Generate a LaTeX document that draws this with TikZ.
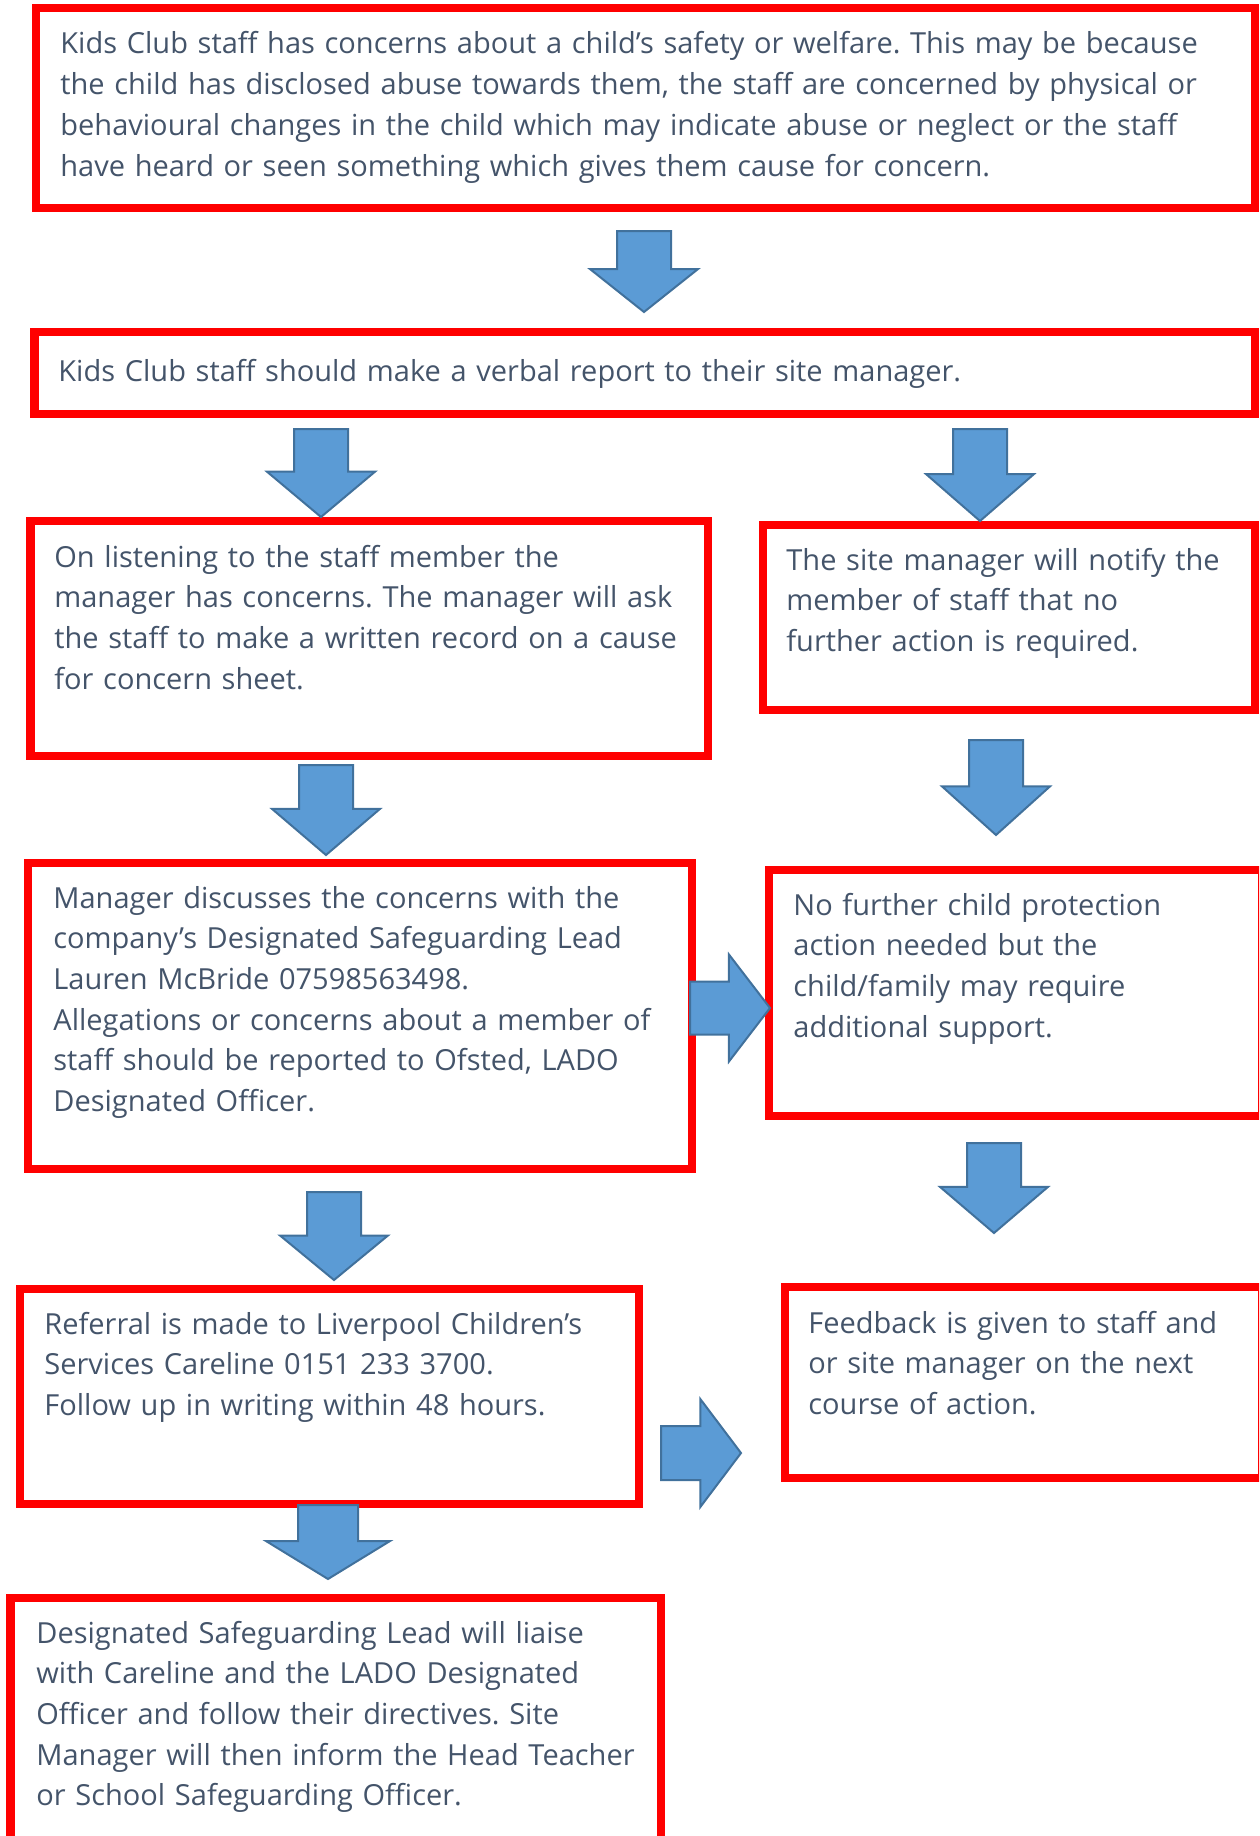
\documentclass[tikz,border=0pt]{standalone}
\usepackage{fontspec}
\setmainfont{Open Sans}
\frenchspacing
\usetikzlibrary{shapes.arrows,fit}
\definecolor{boxred}{HTML}{FF0000}
\definecolor{arrowfill}{HTML}{5B9BD5}
\definecolor{arrowedge}{HTML}{41719C}
\definecolor{textslate}{HTML}{44546A}
\tikzset{
  redbox/.style={draw=boxred, line width=4.25pt, inner sep=0pt},
  boxtext/.style={anchor=base west, align=left, inner sep=0pt, text width=600pt,
    text=textslate, font=\fontsize{14.5pt}{20.35pt}\selectfont},
  blockarrow/.style={single arrow, draw=arrowedge, fill=arrowfill, line width=1pt,
    minimum width=53pt, single arrow head extend=13.5pt, single arrow tip angle=100,
    inner xsep=0pt, inner ysep=13pt, outer sep=0pt, anchor=tip},
  downarrow/.style={blockarrow, rotate=-90},
}
\begin{document}
\begin{tikzpicture}[x=0.5pt, y=-0.5pt]
\useasboundingbox (0,0) rectangle (1259,1836);
\clip (0,0) rectangle (1259,1836);

% boxes
\node[redbox, fit={(36,8) (1255,208)}] (concern) {};
\node[redbox, fit={(34.5,332) (1255,414)}] (report) {};
\node[redbox, fit={(30.5,521) (708,756)}] (record) {};
\node[redbox, fit={(763,525) (1255,710)}] (noaction) {};
\node[redbox, fit={(28,863) (692,1169)}] (discuss) {};
\node[redbox, fit={(769,870) (1262,1116)}] (support) {};
\node[redbox, fit={(20,1289) (639,1504)}] (referral) {};
\node[redbox, fit={(785,1287) (1262,1478)}] (feedback) {};
\node[redbox, fit={(10.5,1598) (661,1870)}] (liaise) {};

% texts
\node[boxtext] (concerntext) at (60,54) {Kids Club staff has concerns about a child’s safety or welfare. This may be because\\
  the child has disclosed abuse towards them, the staff are concerned by physical or\\
  behavioural changes in the child which may indicate abuse or neglect or the staff\\
  have heard or seen something which gives them cause for concern.};
\node[boxtext] (reporttext) at (58,381) {Kids Club staff should make a verbal report to their site manager.};
\node[boxtext] (recordtext) at (54,567) {On listening to the staff member the\\
  manager has concerns. The manager will ask\\
  the staff to make a written record on a cause\\
  for concern sheet.};
\node[boxtext] (noactiontext) at (786,570) {The site manager will notify the\\
  member of staff that no\\
  further action is required.};
\node[boxtext] (discusstext) at (53,908) {Manager discusses the concerns with the\\
  company’s Designated Safeguarding Lead\\
  Lauren McBride 07598563498.\\
  Allegations or concerns about a member of\\
  staff should be reported to Ofsted, LADO\\
  Designated Officer.};
\node[boxtext] (supporttext) at (793,915) {No further child protection\\
  action needed but the\\
  child/family may require\\
  additional support.};
\node[boxtext] (referraltext) at (44,1334) {Referral is made to Liverpool Children’s\\
  Services Careline 0151 233 3700.\\
  Follow up in writing within 48 hours.};
\node[boxtext] (feedbacktext) at (808,1333) {Feedback is given to staff and\\
  or site manager on the next\\
  course of action.};
\node[boxtext] (liaisetext) at (36,1643) {Designated Safeguarding Lead will liaise\\
  with Careline and the LADO Designated\\
  Officer and follow their directives. Site\\
  Manager will then inform the Head Teacher\\
  or School Safeguarding Officer.};

% arrows
\node[downarrow, minimum height=40.5pt, single arrow tip angle=103] (toreport) at (644,312) {};
\node[downarrow, minimum height=44pt] (torecord) at (321,517) {};
\node[downarrow, minimum height=46pt, single arrow tip angle=98] (tonoaction) at (980,521) {};
\node[downarrow, minimum height=45pt, single arrow tip angle=99] (todiscuss) at (326,855) {};
\node[downarrow, minimum height=47.5pt, single arrow tip angle=96] (fromnoaction) at (996,835) {};
\node[downarrow, minimum height=44pt, single arrow tip angle=101] (toreferral) at (334,1280) {};
\node[downarrow, minimum height=45pt, single arrow tip angle=99] (tofeedback) at (994,1233) {};
\node[downarrow, minimum height=37pt, minimum width=60.5pt, inner ysep=14.5pt,
  single arrow head extend=16pt, single arrow tip angle=117] (toliaise) at (328,1579) {};
\node[blockarrow, minimum height=40pt, inner ysep=12.75pt, single arrow tip angle=105] (tosupport) at (770,1008) {};
\node[blockarrow, minimum height=40pt, single arrow tip angle=106] (referraltofeedback) at (741,1453) {};
\end{tikzpicture}
\end{document}
